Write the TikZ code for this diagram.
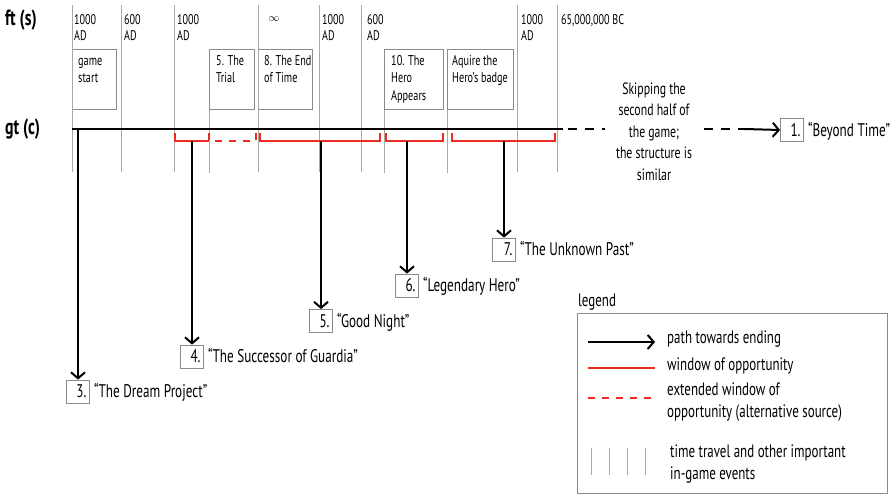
\documentclass[tikz,border=0pt]{standalone}
\usepackage{fontspec}
\setmainfont[FakeStretch=0.72]{PT Sans}
\usetikzlibrary{arrows.meta}
\definecolor{tlred}{HTML}{EE2A24}
\definecolor{vgray}{HTML}{A8A8A8}
\definecolor{bgray}{HTML}{8A8A8A}
\newcommand\topstrut{\rule{0pt}{14pt}}
\tikzset{
  lbl/.style={anchor=north west, inner sep=0pt, align=left, font=\fontsize{14}{16.5}\selectfont},
  boxtxt/.style={anchor=north west, inner sep=0pt, align=left, font=\fontsize{14.2}{17.5}\selectfont},
  legtxt/.style={anchor=north west, inner sep=0pt, align=left, font=\fontsize{18}{22}\selectfont},
  quotetxt/.style={anchor=base west, inner sep=0pt, font=\fontsize{18.3}{20}\selectfont},
  heading/.style={anchor=base west, inner sep=0pt, font=\fontsize{22}{24}\selectfont\bfseries},
  evbox/.style={draw=bgray, line width=0.8pt, anchor=north west, inner sep=0pt, minimum height=60pt},
  numbox/.style={draw=bgray, line width=0.8pt, minimum height=23pt, text width=17pt, inner xsep=3pt, inner ysep=0pt, align=right, font=\fontsize{18.3}{20}\selectfont},
  vline/.style={draw=vgray, line width=0.8pt},
  mainline/.style={line width=2pt, black},
  redwin/.style={draw=tlred, line width=1.8pt},
  reddash/.style={draw=tlred, line width=1.8pt, dash pattern=on 7pt off 7pt},
  blackdash/.style={line width=1.2pt, dash pattern=on 9pt off 8pt},
  arr/.style={line width=2pt, -{Straight Barb[length=6pt,width=14pt]}},
}
\begin{document}
\begin{tikzpicture}[x=1pt,y=-1pt]
\useasboundingbox (0,0) rectangle (892,496);

% headings
\node[heading] (hft) at (5,25) {ft (s)};
\node[heading] (hgt) at (5,134) {gt (c)};

% top labels
\node[lbl] (t1) at (74,10) {\topstrut 1000\\AD};
\node[lbl] (t2) at (124,10) {\topstrut 600\\AD};
\node[lbl] (t3) at (177,10) {\topstrut 1000\\AD};
\node[inner sep=0pt, font=\fontsize{11}{12}\selectfont] (t4) at (274,19) {$\infty$};
\node[lbl] (t5) at (322,10) {\topstrut 1000\\AD};
\node[lbl] (t6) at (367,10) {\topstrut 600\\AD};
\node[lbl] (t7) at (521,10) {\topstrut 1000\\AD};
\node[lbl] (t8) at (561,10) {\topstrut 65,000,000 BC};

% event boxes
\node[evbox, minimum width=44pt] (e1) at (72,49) {};
\node[evbox, minimum width=45pt] (e2) at (209,49) {};
\node[evbox, minimum width=54pt] (e3) at (258,49) {};
\node[evbox, minimum width=59pt] (e4) at (384,49) {};
\node[evbox, minimum width=66pt] (e5) at (447,49) {};
\node[boxtxt] (e1t) at (78,51) {\topstrut game\\start};
\node[boxtxt] (e2t) at (216,51) {\topstrut 5. The\\Trial};
\node[boxtxt] (e3t) at (264,51) {\topstrut 8. The End\\of Time};
\node[boxtxt] (e4t) at (391,51) {\topstrut 10. The\\Hero\\Appears};
\node[boxtxt] (e5t) at (452,51) {\topstrut Aquire the\\Hero’s badge};

% vertical event lines
\foreach \xx in {72,121,174,258,319,361,517,557}
  \draw[vline] (\xx,5) -- (\xx,172);
\draw[vline] (e2.south west) -- ++(0,63);
\draw[vline] (e4.south west) -- ++(0,63);
\draw[vline] (e5.south west) -- ++(0,63);

% main timeline
\coordinate (tlstart) at (72,129);
\coordinate (tlend) at (563,129);
\draw[mainline] (tlstart) -- (tlend);

% windows of opportunity
\draw[redwin] (175,133) -- (175,141) -- (209,141);
\draw[reddash] (209,133) -- (209,141) -- (256,141) -- (256,133);
\draw[redwin] (260,133) -- (260,141) -- (380,141) -- (380,133);
\draw[redwin] (386,133) -- (386,141) -- (443,141) -- (443,133);
\draw[redwin] (452,133) -- (452,141) -- (555,141) -- (555,133);

% skipping text and link to ending 1
\node[align=center, inner sep=0pt, anchor=north, font=\fontsize{16.4}{21.5}\selectfont] (skip) at (654,80)
  {\topstrut Skipping the\\second half of\\the game;\\the structure is\\similar};
\coordinate (d0) at (568,129);
\coordinate (d1) at (605,129);
\coordinate (d2) at (704,129);
\coordinate (d3) at (745,129);
\draw[blackdash] (d0) -- (d1);
\draw[blackdash] (d2) -- (d3);
\node[numbox] (b1) at (792,130) {1.};
\node[quotetxt] (q1) at ([xshift=4pt]b1.base east) {“Beyond Time”};
\draw[arr] (d3) -- (b1.west);

% endings
\node[numbox] (b3) at (78,391.5) {3.};
\node[numbox] (b4) at (192,356.5) {4.};
\node[numbox] (b5) at (321,321) {5.};
\node[numbox] (b6) at (407,285.5) {6.};
\node[numbox] (b7) at (504,249.5) {7.};
\node[quotetxt] (q3) at ([xshift=4pt]b3.base east) {“The Dream Project”};
\node[quotetxt] (q4) at ([xshift=4pt]b4.base east) {“The Successor of Guardia”};
\node[quotetxt] (q5) at ([xshift=4pt]b5.base east) {“Good Night”};
\node[quotetxt] (q6) at ([xshift=4pt]b6.base east) {“Legendary Hero”};
\node[quotetxt] (q7) at ([xshift=4pt]b7.base east) {“The Unknown Past”};

\coordinate (s3) at (78,129);
\coordinate (s4) at (192,141);
\coordinate (s5) at (321,141);
\coordinate (s6) at (407,141);
\coordinate (s7) at (504,141);
\draw[arr] (s3) -- (b3.north);
\draw[arr] (s4) -- (b4.north);
\draw[arr] (s5) -- (b5.north);
\draw[arr] (s6) -- (b6.north);
\draw[arr] (s7) -- (b7.north);

% legend
\node[legtxt] (lgt) at (578,292) {\topstrut legend};
\node[draw=bgray, line width=0.8pt, anchor=north west, minimum width=310pt, minimum height=180pt, inner sep=0pt] (lg) at (577,313) {};
\coordinate (la1) at (588,342);
\coordinate (la2) at (655,342);
\draw[arr] (la1) -- (la2);
\node[legtxt] (lt1) at (667,329) {\topstrut path towards ending};
\coordinate (lr1) at (588,368);
\coordinate (lr2) at (655,368);
\draw[redwin] (lr1) -- (lr2);
\node[legtxt] (lt2) at (667,356) {\topstrut window of opportunity};
\coordinate (ld1) at (588,398);
\coordinate (ld2) at (655,398);
\draw[reddash] (ld1) -- (ld2);
\node[legtxt] (lt3) at (667,381) {\topstrut extended window of\\opportunity (alternative source)};
\foreach \xx in {591,609,627,645}
  \draw[vline] (\xx,448) -- (\xx,475);
\node[legtxt] (lt4) at (670,443) {\topstrut time travel and other important\\in-game events};
\end{tikzpicture}
\end{document}
